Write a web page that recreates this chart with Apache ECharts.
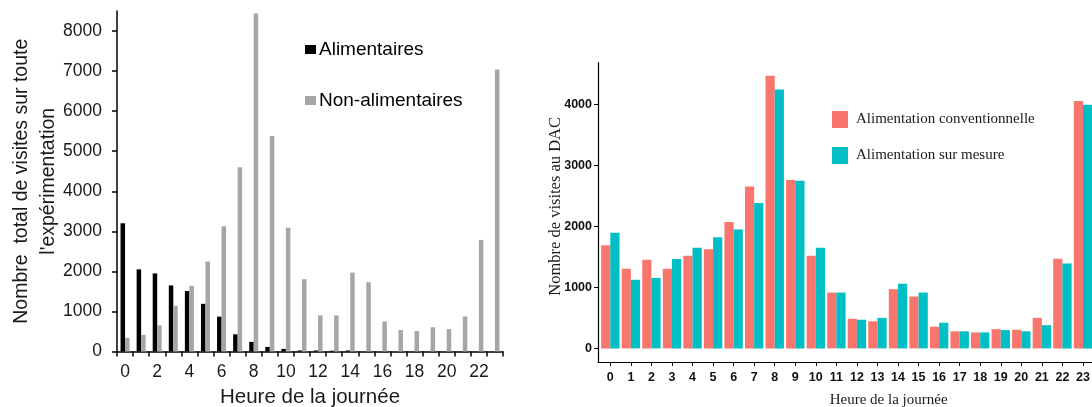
<!DOCTYPE html>
<html>
<head>
<meta charset="utf-8">
<script src="https://cdn.jsdelivr.net/npm/echarts@6/dist/echarts.min.js"></script>
<style>
    html, body { margin: 0; padding: 0; background: #fff; }
    #chart { width: 1092px; height: 407px; }
</style>
</head>
<body>
<div id="chart"></div>
<script>
// heures de la journée
var hours = [];
for (var h = 0; h < 24; h++) { hours.push(h); }

// graphique de gauche : visites totales
var alimentaires = [3200, 2050, 1950, 1650, 1510, 1190, 870, 430, 240, 115, 65, 25, 25, 20, 25, 0, 0, 0, 0, 0, 0, 0, 0, 0];
var nonAlimentaires = [340, 415, 650, 1140, 1640, 2245, 3125, 4600, 8440, 5380, 3090, 1805, 900, 900, 1970, 1730, 750, 535, 510, 605, 560, 875, 2785, 7040];
var leftTicks = [0, 1000, 2000, 3000, 4000, 5000, 6000, 7000, 8000];

// graphique de droite : visites au DAC
var conventionnelle = [1690, 1305, 1455, 1305, 1520, 1625, 2070, 2655, 4470, 2760, 1520, 915, 485, 445, 970, 850, 355, 280, 262, 315, 305, 500, 1470, 4055];
var surMesure = [1895, 1125, 1155, 1465, 1650, 1820, 1950, 2385, 4245, 2750, 1650, 915, 470, 500, 1060, 915, 420, 280, 262, 300, 280, 380, 1390, 3995];
var rightTicks = [0, 1000, 2000, 3000, 4000];

function pairs(values) {
    return values.map(function (v, i) { return [hours[i], v]; });
}

function plain(v) { return String(v); }

var sans = "'Liberation Sans', Arial, sans-serif";
var serif = "'Liberation Serif', 'Times New Roman', serif";

var option = {
    animation: false,
    backgroundColor: '#fff',
    grid: [
        { left: 117, top: 11, width: 386, height: 340.5, outerBoundsMode: 'none', containLabel: false },
        { left: 598, top: 62.7, width: 497.3, height: 299.3, outerBoundsMode: 'none', containLabel: false }
    ],
    legend: [
        {
            data: ['Alimentaires', 'Non-alimentaires'],
            orient: 'vertical',
            left: 300,
            top: 34,
            itemWidth: 11,
            itemHeight: 9,
            itemGap: 30,
            icon: 'rect',
            textStyle: { fontFamily: sans, fontSize: 19, color: '#000', lineHeight: 21, padding: [0, 0, 0, -2] }
        },
        {
            data: ['Alimentation conventionnelle', 'Alimentation sur mesure'],
            orient: 'vertical',
            left: 827,
            top: 106,
            itemWidth: 16,
            itemHeight: 17,
            itemGap: 19,
            icon: 'rect',
            textStyle: { fontFamily: serif, fontSize: 15, color: '#1a1a1a', padding: [0, 0, 0, 3] }
        }
    ],
    xAxis: [
        {
            type: 'category',
            gridIndex: 0,
            data: hours,
            boundaryGap: true,
            name: 'Heure de la journée',
            nameLocation: 'middle',
            nameGap: 34,
            nameTextStyle: { fontFamily: sans, fontSize: 20.5, color: '#1a1a1a' },
            axisLine: { lineStyle: { color: '#000', width: 1.5 } },
            axisTick: { show: true, interval: 0, length: 5, lineStyle: { color: '#000', width: 1.5 } },
            axisLabel: { interval: 1, margin: 12, fontFamily: sans, fontSize: 17.5, color: '#1a1a1a' },
            splitLine: { show: false }
        },
        {
            type: 'value',
            gridIndex: 1,
            min: -0.6,
            max: 23.6,
            name: 'Heure de la journée',
            nameLocation: 'middle',
            nameGap: 31,
            nameTextStyle: { fontFamily: serif, fontSize: 15, color: '#1a1a1a', padding: [0, 0, 0, 84] },
            axisLine: { onZero: false, lineStyle: { color: '#000', width: 1.2 } },
            axisTick: { show: true, length: 4, customValues: hours, lineStyle: { color: '#000' } },
            axisLabel: { customValues: hours, margin: 9, formatter: plain, fontFamily: sans, fontWeight: 'bold', fontSize: 12.5, color: '#111' },
            splitLine: { show: false }
        }
    ],
    yAxis: [
        {
            type: 'value',
            gridIndex: 0,
            min: 0,
            max: 8500,
            name: "Nombre  total de visites sur toute\nl'expérimentation",
            nameLocation: 'middle',
            nameGap: 55,
            nameMoveOverlap: false,
            nameTextStyle: { fontFamily: sans, fontSize: 19.5, color: '#1a1a1a', lineHeight: 27 },
            axisLine: { show: true, lineStyle: { color: '#000', width: 1.5 } },
            axisTick: { show: true, length: 5, customValues: leftTicks, lineStyle: { color: '#000', width: 1.5 } },
            axisLabel: { customValues: leftTicks, margin: 15, formatter: plain, fontFamily: sans, fontSize: 17.5, color: '#1a1a1a' },
            splitLine: { show: false }
        },
        {
            type: 'value',
            gridIndex: 1,
            min: -223,
            max: 4683,
            name: 'Nombre de visites au DAC',
            nameLocation: 'middle',
            nameGap: 34,
            nameMoveOverlap: false,
            nameTextStyle: { fontFamily: serif, fontSize: 16.5, color: '#1a1a1a', padding: [0, 0, 0, 12] },
            axisLine: { show: true, onZero: false, lineStyle: { color: '#000', width: 1.2 } },
            axisTick: { show: true, length: 4, customValues: rightTicks, lineStyle: { color: '#000' } },
            axisLabel: { customValues: rightTicks, margin: 6, formatter: plain, fontFamily: sans, fontWeight: 'bold', fontSize: 12.5, color: '#111' },
            splitLine: { show: false }
        }
    ],
    series: [
        {
            name: 'Alimentaires',
            type: 'bar',
            xAxisIndex: 0,
            yAxisIndex: 0,
            barWidth: 4.5,
            barGap: '0%',
            itemStyle: { color: '#000' },
            data: alimentaires
        },
        {
            name: 'Non-alimentaires',
            type: 'bar',
            xAxisIndex: 0,
            yAxisIndex: 0,
            barWidth: 4.5,
            barGap: '0%',
            itemStyle: { color: '#a6a6a6' },
            data: nonAlimentaires
        },
        {
            name: 'Alimentation conventionnelle',
            type: 'bar',
            xAxisIndex: 1,
            yAxisIndex: 1,
            barWidth: 9.2,
            barGap: '0%',
            itemStyle: { color: '#F8766D' },
            data: pairs(conventionnelle)
        },
        {
            name: 'Alimentation sur mesure',
            type: 'bar',
            xAxisIndex: 1,
            yAxisIndex: 1,
            barWidth: 9.2,
            barGap: '0%',
            itemStyle: { color: '#00BFC4' },
            data: pairs(surMesure)
        }
    ]
};

var myChart = echarts.init(document.getElementById('chart'));
myChart.setOption(option);
</script>
</body>
</html>
